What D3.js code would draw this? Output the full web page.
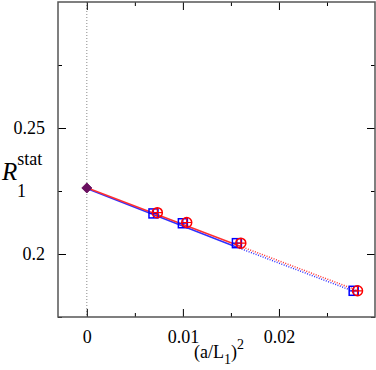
<!DOCTYPE html>
<html lang='en'>
<head>
<meta charset='utf-8'>
<script src='https://cdn.jsdelivr.net/npm/d3@7'></script>
<style>
  body { margin: 0; background: #fff; }
  svg text { font-family: 'Liberation Serif', 'Times New Roman', Times, serif; fill: #000; }
</style>
</head>
<body>
<svg id='svg' width='376' height='370'></svg>
<script>
// (a/L1)^2 values and R1stat values
var blueX = [0.00694, 0.01, 0.015625, 0.02778];
var blueY = [0.2161, 0.2122, 0.2043, 0.1854];
var redX = [0.00734, 0.0104, 0.01603, 0.02818];
var redY = [0.2164, 0.2125, 0.2043, 0.1854];
var extrapX = [0];
var extrapY = [0.2262];
// fit lines: x0, y0, x at end of solid part, y there, x at end of dotted part, y there
var redFit = [0, 0.2263, 0.01603, 0.2030, 0.02818, 0.1855];
var blueFit = [0, 0.2260, 0.015625, 0.2027, 0.02778, 0.1852];
var xTicks = [0, 0.01, 0.02];
var xMinor = [0.005, 0.015, 0.025];
var yTicks = [0.2, 0.25];
var yMinor = [0.175, 0.225, 0.275];

{
  var serif = "'Liberation Serif', 'Times New Roman', Times, serif";
  var svg = d3.select('#svg');
  var pl = 58, pr = 375, pt = 2, pb = 317;
  var x = d3.scaleLinear().domain([-0.003, 0.03]).range([pl, pr]);
  var y = d3.scaleLinear().domain([0.175, 0.3]).range([pb, pt]);

  // dotted zero line
  svg.append('line')
    .attr('x1', x(0)).attr('x2', x(0)).attr('y1', pt).attr('y2', pb)
    .attr('stroke', '#888').attr('stroke-width', 1).attr('stroke-dasharray', '1,2');

  // axes with inward ticks on all sides
  function addAxis(axis, tr) {
    var g = svg.append('g').attr('transform', tr).call(axis)
      .attr('font-family', serif).attr('font-size', 18);
    g.select('.domain').remove();
    g.selectAll('line').attr('stroke', '#000');
    return g;
  }
  addAxis(d3.axisBottom(x).tickValues(xTicks).tickSize(-8).tickPadding(13).tickFormat(d => d === 0 ? '0' : d), 'translate(0,' + pb + ')');
  addAxis(d3.axisBottom(x).tickValues(xMinor).tickSize(-4).tickFormat(''), 'translate(0,' + pb + ')');
  addAxis(d3.axisTop(x).tickValues(xTicks).tickSize(-8).tickFormat(''), 'translate(0,' + pt + ')');
  addAxis(d3.axisTop(x).tickValues(xMinor).tickSize(-4).tickFormat(''), 'translate(0,' + pt + ')');
  addAxis(d3.axisLeft(y).tickValues(yTicks).tickSize(-8).tickPadding(13).tickFormat(d => d), 'translate(' + pl + ',0)');
  addAxis(d3.axisLeft(y).tickValues(yMinor).tickSize(-4).tickFormat(''), 'translate(' + pl + ',0)');
  addAxis(d3.axisRight(y).tickValues(yTicks).tickSize(-8).tickFormat(''), 'translate(' + pr + ',0)');
  addAxis(d3.axisRight(y).tickValues(yMinor).tickSize(-4).tickFormat(''), 'translate(' + pr + ',0)');

  svg.append('rect').attr('x', pl).attr('y', pt).attr('width', pr - pl).attr('height', pb - pt)
    .attr('fill', 'none').attr('stroke', '#555').attr('stroke-width', 1.5);

  // fit lines: solid over the fitted points, dotted beyond
  function fitLine(f, color) {
    svg.append('line').attr('x1', x(f[0])).attr('y1', y(f[1])).attr('x2', x(f[2])).attr('y2', y(f[3]))
      .attr('stroke', color).attr('stroke-width', 1.5);
    svg.append('line').attr('x1', x(f[2])).attr('y1', y(f[3])).attr('x2', x(f[4])).attr('y2', y(f[5]))
      .attr('stroke', color).attr('stroke-width', 1.5).attr('stroke-dasharray', '1,1.5');
  }
  fitLine(blueFit, '#3030ff');
  fitLine(redFit, '#ff3030');

  // blue squares
  var sq = svg.selectAll('.sq').data(d3.range(blueX.length)).enter().append('g')
    .attr('transform', i => 'translate(' + x(blueX[i]) + ',' + y(blueY[i]) + ')');
  sq.append('rect').attr('x', -4.5).attr('y', -4.5).attr('width', 9).attr('height', 9)
    .attr('fill', 'none').attr('stroke', '#0000ff').attr('stroke-width', 1.5);
  sq.append('path').attr('d', 'M-4.5,0H4.5M0,-4.5V4.5').attr('stroke', '#0000ff').attr('stroke-width', 1.2);

  // red circles
  var ci = svg.selectAll('.ci').data(d3.range(redX.length)).enter().append('g')
    .attr('transform', i => 'translate(' + x(redX[i]) + ',' + y(redY[i]) + ')');
  ci.append('circle').attr('r', 5).attr('fill', 'none').attr('stroke', '#ff0000').attr('stroke-width', 1.5);
  ci.append('path').attr('d', 'M-5,0H5M0,-5V5').attr('stroke', '#ff0000').attr('stroke-width', 1.2);

  // extrapolated value
  svg.selectAll('.dm').data(extrapX).enter().append('path')
    .attr('transform', (d, i) => 'translate(' + x(d) + ',' + y(extrapY[i]) + ')')
    .attr('d', 'M0,-5L5,0L0,5L-5,0Z').attr('fill', '#6a1060').attr('stroke', '#6a1060').attr('stroke-width', 1);

  // axis labels
  var yl = svg.append('text').attr('x', 2).attr('y', 180).attr('font-size', 25).attr('font-family', serif);
  yl.append('tspan').attr('font-style', 'italic').text('R');
  yl.append('tspan').attr('font-size', 18).attr('dy', -15).text('stat');
  svg.append('text').attr('x', 17).attr('y', 197).attr('font-size', 18).attr('font-family', serif).text('1');

  var xl = svg.append('text').attr('x', 219).attr('y', 358).attr('text-anchor', 'middle')
    .attr('font-size', 18).attr('font-family', serif);
  xl.append('tspan').text('(a/L');
  xl.append('tspan').attr('font-size', 14).attr('dy', 6).text('1');
  xl.append('tspan').attr('dy', -6).text(')');
  xl.append('tspan').attr('font-size', 14).attr('dy', -9).text('2');
}
</script>
</body>
</html>
